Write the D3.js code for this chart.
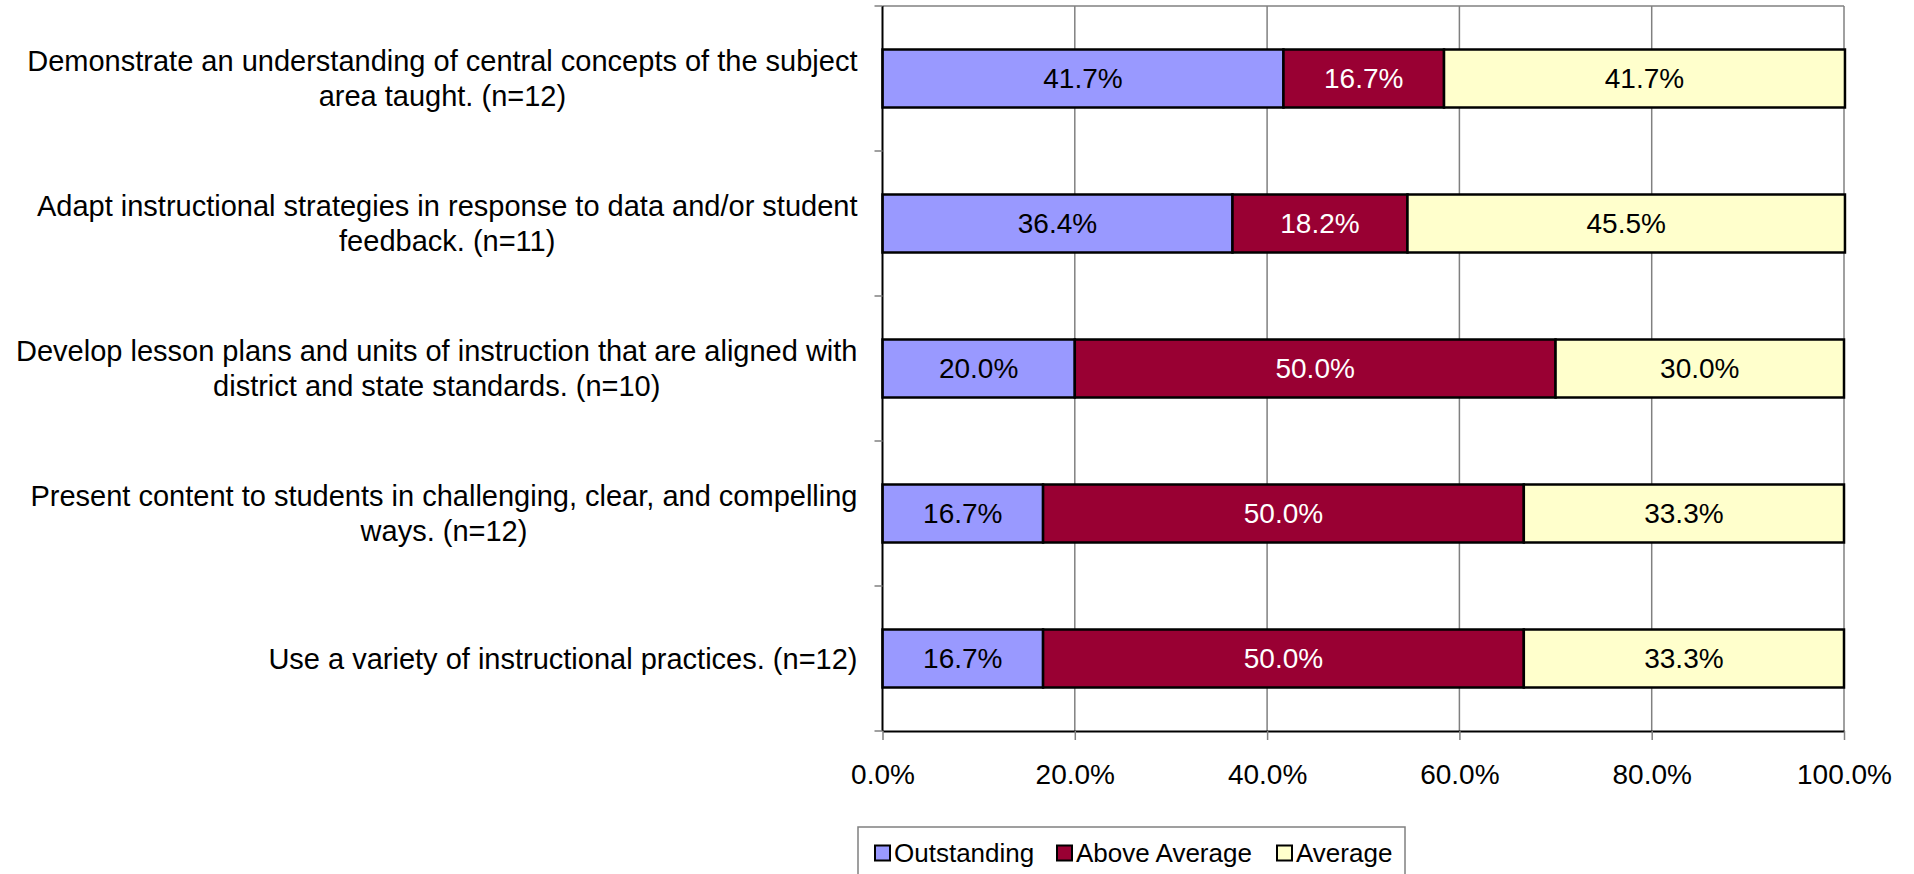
<!DOCTYPE html>
<html>
<head>
<meta charset="utf-8">
<script src="https://cdn.jsdelivr.net/npm/d3@7"></script>
<style>
  body { margin: 0; background: #fff; }
  svg { display: block; }
  text { font-family: "Liberation Sans", Arial, sans-serif; }
</style>
</head>
<body>
<svg id="chart" width="1914" height="874"></svg>
<script>
// question labels, one entry per line of text
var categories = [
  ["Demonstrate an understanding of central concepts of the subject", "area taught. (n=12)"],
  ["Adapt instructional strategies in response to data and/or student", "feedback. (n=11)"],
  ["Develop lesson plans and units of instruction that are aligned with", "district and state standards. (n=10)"],
  ["Present content to students in challenging, clear, and compelling", "ways. (n=12)"],
  ["Use a variety of instructional practices. (n=12)"]
];
var seriesNames = ["Outstanding", "Above Average", "Average"];
var outstanding = [41.7, 36.4, 20.0, 16.7, 16.7];
var aboveAverage = [16.7, 18.2, 50.0, 50.0, 50.0];
var average = [41.7, 45.5, 30.0, 33.3, 33.3];
var tickValues = [0, 20, 40, 60, 80, 100];

var colours = ["#9999ff", "#990033", "#ffffcc"];
var textColours = ["#000", "#fff", "#000"];

var svg = d3.select("#chart"),
  margin = {top: 6, right: 70, bottom: 143, left: 882.5},
  width = 1914 - margin.left - margin.right,
  height = 874 - margin.top - margin.bottom;

var g = svg.append("g")
  .attr("transform", `translate(${margin.left},${margin.top})`);

var keys = categories.map(function(d, i) { return "q" + i; });

var x = d3.scaleLinear().domain([0, 100]).range([0, width]);
var y = d3.scaleBand().domain(keys).range([0, height])
  .paddingInner(0.6).paddingOuter(0.3);

/** table for the stack layout, built from the arrays above */
var rows = keys.map(function(k, i) {
  return {key: k, s0: outstanding[i], s1: aboveAverage[i], s2: average[i]};
});
var stacked = d3.stack().keys(["s0", "s1", "s2"])(rows);

// gridlines and the plot frame
g.selectAll(".grid")
  .data(tickValues.slice(1))
  .enter().append("line")
  .attr("x1", d => x(d)).attr("x2", d => x(d))
  .attr("y1", 0).attr("y2", height)
  .style("stroke", "#808080")
  .style("stroke-width", 1.5);

g.append("line")
  .attr("x1", 0).attr("x2", width)
  .attr("y1", 0).attr("y2", 0)
  .style("stroke", "#808080")
  .style("stroke-width", 1.5);

// bars
var layer = g.selectAll(".layer")
  .data(stacked)
  .enter().append("g")
  .attr("class", "layer");

layer.selectAll("rect")
  .data(function(d) { return d; })
  .enter().append("rect")
  .attr("x", d => x(d[0]))
  .attr("y", d => y(d.data.key))
  .attr("width", d => x(d[1]) - x(d[0]))
  .attr("height", y.bandwidth())
  .style("fill", function() { return colours[d3.select(this.parentNode).datum().index]; })
  .style("stroke", "#000")
  .style("stroke-width", 2.5);

layer.selectAll("text")
  .data(function(d) { return d; })
  .enter().append("text")
  .attr("x", d => x((d[0] + d[1]) / 2))
  .attr("y", d => y(d.data.key) + y.bandwidth() / 2)
  .attr("dy", "0.35em")
  .style("text-anchor", "middle")
  .style("font-size", "28px")
  .style("fill", function() { return textColours[d3.select(this.parentNode).datum().index]; })
  .text(d => (d[1] - d[0]).toFixed(1) + "%");

// x axis
var xAxis = g.append("g")
  .attr("transform", `translate(0,${height})`)
  .call(d3.axisBottom(x).tickValues(tickValues).tickSize(9).tickSizeOuter(0)
    .tickFormat(d => d.toFixed(1) + "%"));
xAxis.select(".domain").style("stroke", "#000").style("stroke-width", 2);
xAxis.selectAll(".tick line").style("stroke", "#808080").style("stroke-width", 1.5);
xAxis.selectAll(".tick text")
  .attr("y", 43)
  .attr("dy", "0.35em")
  .style("font-family", "'Liberation Sans', Arial, sans-serif")
  .style("font-size", "28px")
  .style("fill", "#000");

// y axis: ticks sit on the band boundaries
var yAxis = g.append("g");
yAxis.append("line")
  .attr("x1", 0).attr("x2", 0).attr("y1", 0).attr("y2", height)
  .style("stroke", "#000").style("stroke-width", 2);
yAxis.selectAll(".ytick")
  .data(d3.range(keys.length + 1))
  .enter().append("line")
  .attr("x1", -8).attr("x2", 0)
  .attr("y1", i => i * y.step()).attr("y2", i => i * y.step())
  .style("stroke", "#808080").style("stroke-width", 1.5);

// category labels: centred lines, the block aligned right
var lineHeight = 35;
var labels = g.selectAll(".cat")
  .data(categories)
  .enter().append("text")
  .style("font-size", "29px")
  .style("text-anchor", "middle")
  .style("fill", "#000");

labels.each(function(lines, i) {
  var t = d3.select(this);
  var cy = y(keys[i]) + y.bandwidth() / 2;
  lines.forEach(function(line, j) {
    t.append("tspan")
      .attr("y", cy + (j - (lines.length - 1) / 2) * lineHeight)
      .attr("dy", "0.35em")
      .text(line);
  });
  var maxW = d3.max(t.selectAll("tspan").nodes(), n => n.getComputedTextLength());
  t.selectAll("tspan").attr("x", -25 - maxW / 2);
});

// legend
var legend = svg.append("g").attr("transform", "translate(858,827)");
legend.append("rect")
  .attr("width", 547).attr("height", 60)
  .style("fill", "#fff").style("stroke", "#808080").style("stroke-width", 1.5);

var legendX = [17, 199, 419];
var item = legend.selectAll(".item")
  .data(seriesNames)
  .enter().append("g")
  .attr("transform", (d, i) => `translate(${legendX[i]},26)`);
item.append("rect")
  .attr("x", 0).attr("y", -7.5).attr("width", 15).attr("height", 15)
  .style("fill", (d, i) => colours[i])
  .style("stroke", "#000").style("stroke-width", 2);
item.append("text")
  .attr("x", 19).attr("dy", "0.35em")
  .style("font-size", "26px")
  .text(d => d);
</script>
</body>
</html>
